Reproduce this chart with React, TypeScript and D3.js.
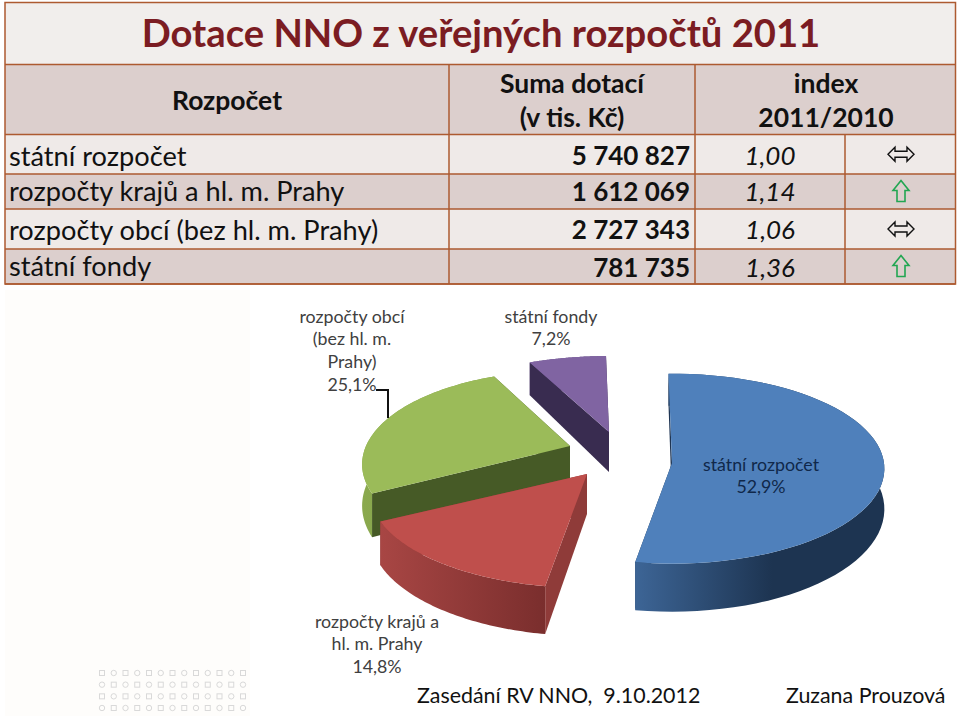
import * as d3 from 'd3';

const FONT = 'Lato, "Open Sans", sans-serif';

// table data
const rowNames = ['státní rozpočet', 'rozpočty krajů a hl. m. Prahy', 'rozpočty obcí (bez hl. m. Prahy)', 'státní fondy'];
const sums = ['5 740 827', '1 612 069', '2 727 343', '781 735'];
const indexes = ['1,00', '1,14', '1,06', '1,36'];
const trends = ['flat', 'up', 'flat', 'up'];

// pie data
const sharePct = [52.9, 14.8, 25.1, 7.2];
const shareLabels = ['52,9%', '14,8%', '25,1%', '7,2%'];
const topColors = ['#4f80bb', '#bf4f4c', '#9bbb59', '#8064a2'];
const wallColors = ['#1f3553', '#8f3b39', '#465a26', '#392c50'];
const sideFrom = ['#3d6596', '#a84644', '#8aa94e', '#6d5590'];
const sideTo = ['#1d3451', '#7a2e2d', '#7f9c46', '#5b4778'];
// where each exploded slice's tip ends up, and its horizontal radius
const tipX = [672, 587, 570, 609];
const tipY = [463, 474, 446, 432];
const radiusX = [212, 213, 204, 213];
const drawOrder = [3, 2, 0, 1];

const rowEdges = [134.5, 174, 209, 249, 284];
const rowBaselines = [166, 201, 240, 276];
const numBaselines = [165, 201, 239, 277];

const dotCols = d3.range(13);
const dotRows = d3.range(4);

const RY = 95;
const PERSP = 0.2;
const DEPTH = 40;

function project(i: number, a: number, drop = 0) {
  // blue slice is flatter than the rest in the picture
  const k = i === 0 ? 0.06 : PERSP;
  const p = 1 - k * Math.cos(a);
  return [
    tipX[i] + radiusX[i] * Math.sin(a) * p,
    tipY[i] - RY * Math.cos(a) * p + drop * (1 - PERSP * Math.cos(a)),
  ] as [number, number];
}

const line = d3.line();

function Slice({ i, arc }: { i: number; arc: d3.PieArcDatum<number> }) {
  const steps = d3.range(0, 61).map(s => arc.startAngle + (arc.endAngle - arc.startAngle) * s / 60);
  const rim = steps.map(a => project(i, a));
  const rimLow = steps.map(a => project(i, a, DEPTH));
  const tip = [tipX[i], tipY[i]] as [number, number];
  const tipLow = [tipX[i], tipY[i] + DEPTH] as [number, number];
  const top = line([tip, ...rim])! + 'Z';
  const side = line([...rim, ...rimLow.slice().reverse()])! + 'Z';
  const wallA = line([tip, tipLow, rimLow[0], rim[0]])! + 'Z';
  const wallB = line([tip, tipLow, rimLow[60], rim[60]])! + 'Z';
  return (
    <g>
      <path d={wallB} fill={wallColors[i]} />
      <path d={side} fill={`url(#side${i})`} />
      <path d={wallA} fill={wallColors[i]} />
      <path d={top} fill={topColors[i]} />
    </g>
  );
}

function Arrow({ kind, x, y }: { kind: string; x: number; y: number }) {
  if (kind === 'up') {
    return (
      <path
        transform={`translate(${x},${y})`}
        d="M0,-11 L8,-1 L4,-1 L4,10 L-4,10 L-4,-1 L-8,-1 Z"
        fill="none"
        stroke="#22a652"
        strokeWidth={1.6}
      />
    );
  }
  return (
    <path
      transform={`translate(${x},${y})`}
      d="M-13,0 L-6,-7 L-6,-3 L6,-3 L6,-7 L13,0 L6,7 L6,3 L-6,3 L-6,7 Z"
      fill="none"
      stroke="#111"
      strokeWidth={1.4}
    />
  );
}

export default function App() {
  const pie = d3.pie<number>().sort(null).startAngle(-Math.PI / 180).endAngle(2 * Math.PI - Math.PI / 180);
  const arcs = pie(sharePct);
  const border = '#ad5a30';
  const light = '#efeae8';
  const dark = '#dccfcd';

  return (
    <svg width={960} height={716} style={{ position: 'absolute', left: 0, top: 0 }} fontFamily={FONT}>
      <rect width={960} height={716} fill="#fff" />
      <rect x={5} y={290} width={245} height={426} fill="#fefdfb" />

      {/* table */}
      <rect x={5} y={2.5} width={950.5} height={62} fill="#f1eeec" />
      <rect x={5} y={64.5} width={950.5} height={70} fill={dark} />
      {rowNames.map((_, i) => (
        <rect key={i} x={5} y={rowEdges[i]} width={950.5} height={rowEdges[i + 1] - rowEdges[i]} fill={i % 2 ? dark : light} />
      ))}
      <g stroke={border} strokeWidth={1.5} fill="none">
        <rect x={5} y={2.5} width={950.5} height={281.5} />
        <line x1={5} x2={955.5} y1={64.5} y2={64.5} />
        {rowEdges.map(y => <line key={y} x1={5} x2={955.5} y1={y} y2={y} />)}
        <line x1={449} x2={449} y1={64.5} y2={284} />
        <line x1={695} x2={695} y1={64.5} y2={284} />
        <line x1={845} x2={845} y1={134.5} y2={284} />
      </g>

      <text x={481} y={47} textAnchor="middle" fontSize={38.2} fontWeight={700} fill="#7b1c22">Dotace NNO z veřejných rozpočtů 2011</text>
      <g fontSize={26.5} fontWeight={700} fill="#111" textAnchor="middle">
        <text x={227} y={110}>Rozpočet</text>
        <text x={572} y={93}>Suma dotací</text>
        <text x={572} y={127}>(v tis. Kč)</text>
        <text x={826} y={93}>index</text>
        <text x={826} y={127}>2011/2010</text>
      </g>
      {rowNames.map((name, i) => (
        <g key={name} fontSize={26} fill="#111">
          <text x={9} y={rowBaselines[i]} fontSize={27.2}>{name}</text>
          <text x={690} y={numBaselines[i]} textAnchor="end" fontWeight={700}>{sums[i]}</text>
          <text x={770} y={numBaselines[i]} textAnchor="middle" fontStyle="italic">{indexes[i]}</text>
          <Arrow kind={trends[i]} x={901} y={(rowEdges[i] + rowEdges[i + 1]) / 2} />
        </g>
      ))}

      {/* pie */}
      <defs>
        {sharePct.map((_, i) => (
          <linearGradient key={i} id={`side${i}`} x1="0" x2="1" y1="0" y2="0">
            <stop offset="0" stopColor={sideFrom[i]} />
            <stop offset={i === 0 ? 0.55 : 1} stopColor={sideTo[i]} />
          </linearGradient>
        ))}
      </defs>
      {drawOrder.map(i => <Slice key={i} i={i} arc={arcs[i]} />)}

      <path d="M376,390 H388 V418" fill="none" stroke="#111" strokeWidth={2} />

      <g fontSize={17.8} textAnchor="middle" fill="#404040">
        <text x={352} y={323}>rozpočty obcí</text>
        <text x={352} y={345}>(bez hl. m.</text>
        <text x={352} y={368}>Prahy)</text>
        <text x={352} y={391}>{shareLabels[2]}</text>
        <text x={551} y={323}>státní fondy</text>
        <text x={551} y={345}>{shareLabels[3]}</text>
        <text x={377} y={628}>rozpočty krajů a</text>
        <text x={377} y={650}>hl. m. Prahy</text>
        <text x={377} y={673}>{shareLabels[1]}</text>
        <g fill="#10284a">
          <text x={761} y={471}>státní rozpočet</text>
          <text x={761} y={493}>{shareLabels[0]}</text>
        </g>
      </g>

      {/* faint slide decoration */}
      <g fill="none" stroke="#d9d9d9" strokeWidth={1}>
        {dotRows.map(r => dotCols.map(c => {
          const x = d3.scaleLinear().domain([0, 12]).range([102, 243])(c);
          const y = d3.scaleLinear().domain([0, 3]).range([673, 708])(r);
          return (r + c) % 2 === 0
            ? <rect key={`${r}-${c}`} x={x - 2.5} y={y - 2.5} width={5} height={5} />
            : <circle key={`${r}-${c}`} cx={x} cy={y} r={2.7} />;
        }))}
      </g>

      <g fontSize={21.4} fill="#111">
        <text x={417} y={703} xmlSpace="preserve">Zasedání RV NNO,  9.10.2012</text>
        <text x={786} y={703}>Zuzana Prouzová</text>
      </g>
    </svg>
  );
}
